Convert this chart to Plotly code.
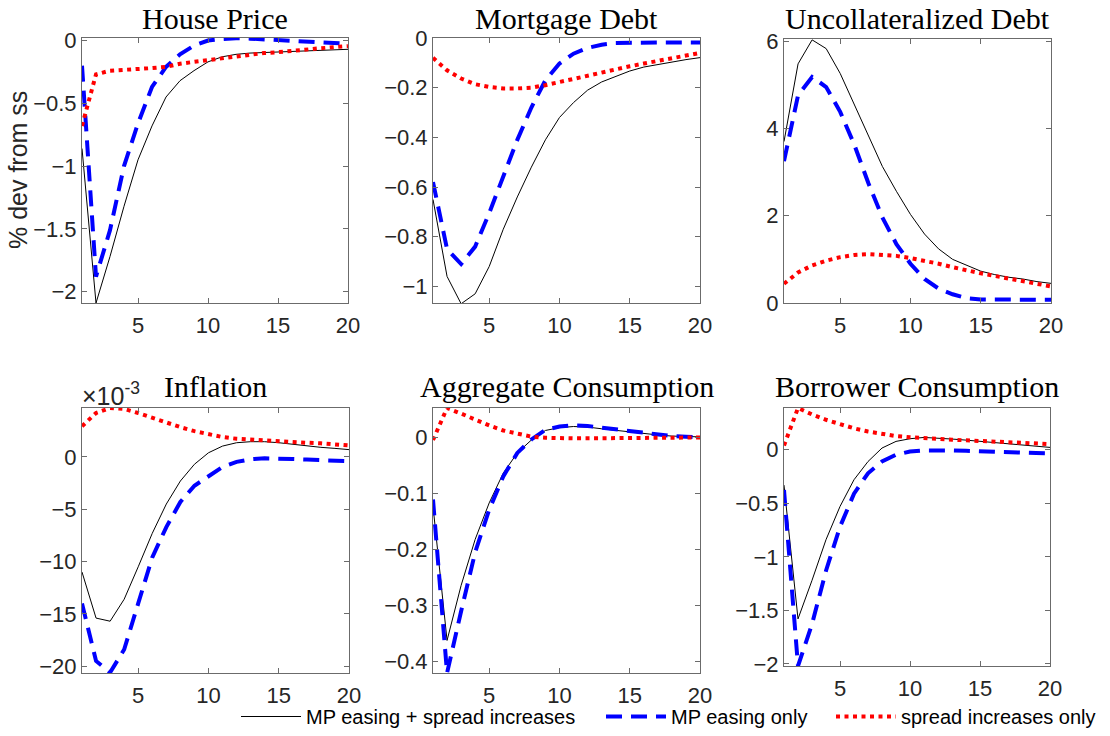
import plotly.graph_objects as go

periods = list(range(1, 21))

titles = ["House Price", "Mortgage Debt", "Uncollateralized Debt",
          "Inflation", "Aggregate Consumption", "Borrower Consumption"]

series_names = ["MP easing + spread increases", "MP easing only", "spread increases only"]

# House Price
hp_both = [-0.86, -2.09, -1.72, -1.32, -0.95, -0.68, -0.45, -0.32, -0.24, -0.17,
           -0.13, -0.11, -0.10, -0.095, -0.09, -0.085, -0.08, -0.077, -0.073, -0.07]
hp_mp = [-0.20, -1.88, -1.51, -1.00, -0.66, -0.37, -0.21, -0.11, -0.04, 0.0,
         0.012, 0.018, 0.015, 0.008, 0.002, -0.005, -0.01, -0.015, -0.02, -0.025]
hp_spread = [-0.68, -0.27, -0.24, -0.235, -0.228, -0.22, -0.21, -0.185, -0.17, -0.155,
             -0.14, -0.125, -0.115, -0.10, -0.093, -0.08, -0.072, -0.062, -0.053, -0.045]

# Mortgage Debt
md_both = [-0.65, -0.96, -1.07, -1.03, -0.92, -0.77, -0.64, -0.52, -0.41, -0.32,
           -0.26, -0.21, -0.177, -0.154, -0.133, -0.117, -0.106, -0.096, -0.087, -0.079]
md_mp = [-0.58, -0.85, -0.91, -0.84, -0.705, -0.56, -0.41, -0.28, -0.17, -0.103,
         -0.063, -0.04, -0.027, -0.02, -0.018, -0.018, -0.018, -0.018, -0.018, -0.018]
md_spread = [-0.08, -0.13, -0.163, -0.186, -0.197, -0.203, -0.203, -0.20, -0.19, -0.177,
             -0.163, -0.15, -0.137, -0.126, -0.114, -0.103, -0.092, -0.083, -0.072, -0.06]

# Uncollateralized Debt
ud_both = [3.70, 5.48, 6.03, 5.83, 5.26, 4.54, 3.82, 3.13, 2.56, 2.03,
           1.58, 1.24, 1.00, 0.86, 0.73, 0.65, 0.59, 0.55, 0.49, 0.45]
ud_mp = [3.25, 4.76, 5.18, 4.95, 4.38, 3.63, 2.75, 1.96, 1.35, 0.90,
         0.55, 0.33, 0.20, 0.11, 0.08, 0.075, 0.075, 0.075, 0.075, 0.075]
ud_spread = [0.44, 0.70, 0.86, 0.97, 1.05, 1.10, 1.12, 1.10, 1.08, 1.03,
             0.97, 0.90, 0.82, 0.74, 0.68, 0.62, 0.56, 0.52, 0.455, 0.38]

# Inflation (units of 1e-3)
inf_both = [-11.0, -15.4, -15.7, -13.6, -10.5, -7.3, -4.5, -2.3, -0.7, 0.4,
            1.04, 1.36, 1.46, 1.46, 1.36, 1.2, 1.04, 0.92, 0.82, 0.7]
inf_mp = [-14.0, -19.5, -20.6, -18.4, -14.0, -9.6, -6.7, -4.3, -2.75, -1.8,
          -0.95, -0.47, -0.22, -0.13, -0.13, -0.2, -0.25, -0.32, -0.38, -0.41]
inf_spread = [2.94, 4.2, 4.68, 4.59, 4.2, 3.73, 3.26, 2.85, 2.47, 2.15,
              1.9, 1.74, 1.65, 1.55, 1.49, 1.42, 1.36, 1.3, 1.2, 1.1]

# Aggregate Consumption
ac_both = [-0.123, -0.362, -0.264, -0.182, -0.117, -0.064, -0.028, -0.005, 0.012, 0.017,
           0.019, 0.018, 0.015, 0.012, 0.009, 0.006, 0.004, 0.002, 0.001, 0.0006]
ac_mp = [-0.111, -0.42, -0.31, -0.205, -0.129, -0.07, -0.028, -0.004, 0.013, 0.019,
         0.021, 0.02, 0.017, 0.014, 0.011, 0.007, 0.004, 0.002, 0.001, 0.0]
ac_spread = [-0.005, 0.052, 0.042, 0.031, 0.021, 0.012, 0.006, 0.001, -0.001, -0.002,
             -0.002, -0.002, -0.002, -0.002, -0.0018, -0.0015, -0.0012, -0.001, -0.0008, -0.0005]

# Borrower Consumption
bc_both = [-0.33, -1.58, -1.22, -0.84, -0.53, -0.28, -0.11, 0.016, 0.078, 0.103,
           0.115, 0.11, 0.10, 0.09, 0.078, 0.066, 0.053, 0.04, 0.031, 0.022]
bc_mp = [-0.375, -2.02, -1.63, -1.13, -0.72, -0.41, -0.22, -0.11, -0.047, -0.016,
         -0.006, -0.003, -0.006, -0.01, -0.016, -0.022, -0.025, -0.028, -0.031, -0.034]
bc_spread = [0.04, 0.39, 0.33, 0.28, 0.24, 0.20, 0.17, 0.147, 0.128, 0.116,
             0.106, 0.10, 0.094, 0.088, 0.081, 0.075, 0.069, 0.063, 0.059, 0.053]

panel_data = [
    (hp_both, hp_mp, hp_spread),
    (md_both, md_mp, md_spread),
    (ud_both, ud_mp, ud_spread),
    (inf_both, inf_mp, inf_spread),
    (ac_both, ac_mp, ac_spread),
    (bc_both, bc_mp, bc_spread),
]

y_ranges = [[-2.09, 0.02], [-1.067, 0.0], [0.0, 6.05],
            [-20.65, 4.68], [-0.42, 0.052], [-2.02, 0.39]]
y_ticks = [[-2, -1.5, -1, -0.5, 0], [-1, -0.8, -0.6, -0.4, -0.2, 0], [0, 2, 4, 6],
           [-20, -15, -10, -5, 0], [-0.4, -0.3, -0.2, -0.1, 0], [-2, -1.5, -1, -0.5, 0]]
x_ticks = [5, 10, 15, 20]

W, H = 1110, 736
# panel pixel boxes: (left, right, top, bottom)
boxes = [(82, 348, 38, 303), (433, 700, 38, 303), (784, 1051, 39, 303),
         (82, 349, 408, 673), (433, 700, 408, 673), (784, 1050, 408, 666)]

styles = [
    dict(color="black", width=1, dash="solid"),
    dict(color="#0000FF", width=4, dash="16px,9px"),
    dict(color="#FF0000", width=4, dash="4px,4.5px"),
]
legend_widths = [290, 155, None]

fig = go.Figure()
layout = {}
annotations = []
for i, (data, box) in enumerate(zip(panel_data, boxes)):
    k = "" if i == 0 else str(i + 1)
    for j, (vals, st) in enumerate(zip(data, styles)):
        tr = dict(x=periods, y=vals, mode="lines", line=st,
                  name=series_names[j], showlegend=(i == 0),
                  xaxis="x" + k, yaxis="y" + k, hoverinfo="skip")
        if i == 0 and legend_widths[j] is not None:
            tr["legendwidth"] = legend_widths[j]
        fig.add_trace(go.Scatter(**tr))
    l, r, t, b = box
    axcommon = dict(showline=True, linecolor="#6b6b6b", linewidth=1, mirror="ticks",
                    ticks="inside", ticklen=5, tickcolor="#6b6b6b", showgrid=False,
                    zeroline=False, tickfont=dict(family="Liberation Sans, Arial", size=22,
                                                   color="#262626"))
    layout["xaxis" + k] = dict(domain=[l / W, r / W], range=[1, 20], tickvals=x_ticks,
                               anchor="y" + k, ticklabelstandoff=3, **axcommon)
    layout["yaxis" + k] = dict(domain=[1 - b / H, 1 - t / H], range=y_ranges[i],
                               tickvals=y_ticks[i], anchor="x" + k, **axcommon)
    ty = 18 if i < 3 else 386
    annotations.append(dict(text=titles[i], x=(l + r) / 2 / W, y=1 - ty / H,
                            xref="paper", yref="paper", showarrow=False,
                            xanchor="center", yanchor="middle",
                            font=dict(family="Liberation Serif, Times New Roman", size=30,
                                      color="black")))

annotations.append(dict(text="% dev from ss", x=18 / W, y=1 - 170 / H, xref="paper",
                        yref="paper", showarrow=False, textangle=-90,
                        xanchor="center", yanchor="middle",
                        font=dict(family="Liberation Sans, Arial", size=25, color="#262626")))
annotations.append(dict(text="×10<sup>-3</sup>", x=80 / W, y=1 - 394 / H, xref="paper",
                        yref="paper", showarrow=False, xanchor="left", yanchor="middle",
                        font=dict(family="Liberation Sans, Arial", size=25, color="#262626")))

fig.update_layout(
    width=W, height=H, margin=dict(l=0, r=0, t=0, b=0, autoexpand=False),
    paper_bgcolor="white", plot_bgcolor="white",
    annotations=annotations,
    showlegend=True,
    legend=dict(orientation="h", x=236 / W, y=0.0, xanchor="left", yanchor="bottom",
                font=dict(family="Liberation Sans, Arial", size=20, color="black"),
                itemwidth=60, bgcolor="rgba(0,0,0,0)", tracegroupgap=0),
    **layout,
)

fig.write_html("out.html", config={"displayModeBar": False},
               post_script="document.body.style.margin='0px';document.body.style.overflow='hidden';")
